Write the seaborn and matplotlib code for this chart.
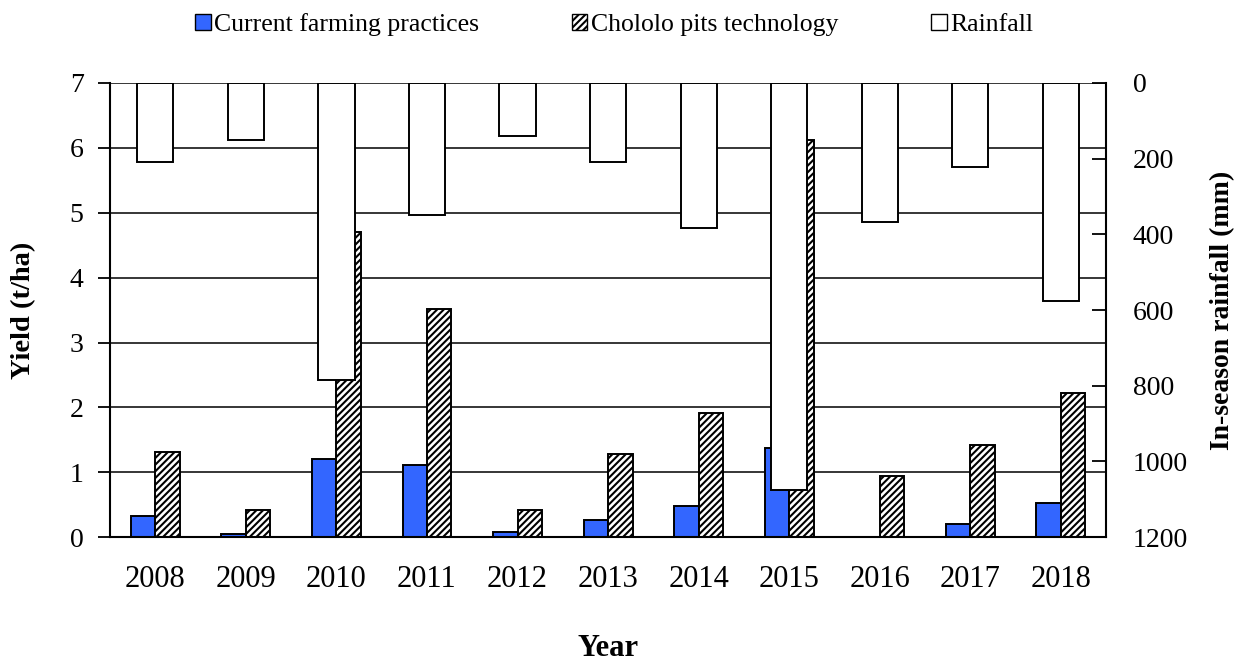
import numpy as np
import pandas as pd
import seaborn as sns
from matplotlib import pyplot as plt
from matplotlib.patches import Patch

years = ['2008', '2009', '2010', '2011', '2012', '2013', '2014', '2015', '2016', '2017', '2018']
current_yield = [0.32, 0.05, 1.21, 1.12, 0.08, 0.26, 0.48, 1.37, 0.0, 0.2, 0.53]
chololo_yield = [1.31, 0.42, 4.71, 3.51, 0.42, 1.28, 1.92, 6.12, 0.94, 1.42, 2.22]
rainfall = [210, 150, 785, 350, 140, 210, 382, 1076, 367, 221, 576]

series_names = ['Current farming practices', 'Chololo pits technology']

sns.set_theme(style='white')
plt.rcParams['font.family'] = ['Liberation Serif', 'DejaVu Serif']
plt.rcParams['hatch.linewidth'] = 1.5
for k in ['text.color', 'axes.labelcolor', 'xtick.color', 'ytick.color']:
    plt.rcParams[k] = 'black'

df = pd.DataFrame({
    'Year': years * 2,
    'Yield': current_yield + chololo_yield,
    'Practice': [series_names[0]] * len(years) + [series_names[1]] * len(years),
})

blue = '#3366FF'
hatch = '/////'
fig = plt.figure(figsize=(12.36, 6.64), dpi=100)
ax = fig.add_axes([0.089, 0.191, 0.806, 0.684])

sns.barplot(data=df, x='Year', y='Yield', hue='Practice', palette=[blue, 'white'],
            saturation=1, width=0.54, edgecolor='black', linewidth=1.4, ax=ax, legend=False)
n = len(years)
for p in ax.patches[n:2 * n]:
    p.set_hatch(hatch)

ax.set_ylim(0, 7)
ax.set_xlim(-0.5, n - 0.5)
ax.set_yticks(range(0, 8))
ax.yaxis.grid(True, color='black', linewidth=1.1)
ax.set_axisbelow(True)
for s in ['top', 'right']:
    ax.spines[s].set_visible(False)
for s in ['left', 'bottom']:
    ax.spines[s].set_color('black')
    ax.spines[s].set_linewidth(1.5)
ax.set_xticks(np.arange(-0.5, n, 1), minor=True)
ax.tick_params(axis='x', which='major', length=0, pad=20, labelsize=22)
ax.tick_params(axis='x', which='minor', length=8, width=1.3, color='black', direction='out')
ax.tick_params(axis='y', length=9, width=1.3, color='black', direction='out', left=True,
               labelsize=20, pad=10)
ax.set_xlabel('Year', fontsize=22, fontweight='bold', labelpad=29)
ax.set_ylabel('Yield (t/ha)', fontsize=20.5, fontweight='bold', labelpad=24)

ax2 = ax.twinx()
sns.barplot(x=list(range(n)), y=rainfall, color='white', saturation=1, width=0.4,
            edgecolor='black', linewidth=1.4, ax=ax2, native_scale=True)
ax2.set_xlim(-0.5, n - 0.5)
ax2.set_ylim(1200, 0)
ax2.set_yticks(range(0, 1201, 200))
ax2.patch.set_visible(False)
for s in ['top', 'left', 'bottom']:
    ax2.spines[s].set_visible(False)
ax2.spines['right'].set_color('black')
ax2.spines['right'].set_linewidth(1.5)
ax2.tick_params(axis='y', right=True, length=10, width=1.3, color='black', direction='in',
                labelsize=20, pad=19)
ax2.set_ylabel('In-season rainfall (mm)', fontsize=20, fontweight='bold', labelpad=16)

handles = [Patch(facecolor=blue, edgecolor='black', label=series_names[0]),
           Patch(facecolor='white', edgecolor='black', hatch=hatch, label=series_names[1]),
           Patch(facecolor='white', edgecolor='black', label='Rainfall')]
fig.legend(handles=handles, loc='upper center', bbox_to_anchor=(0.497, 1.015), ncol=3,
           frameon=False, fontsize=18.5, handlelength=0.6, handleheight=0.6,
           handletextpad=0.15, columnspacing=3.6)

fig.savefig('out.png', dpi=100)
